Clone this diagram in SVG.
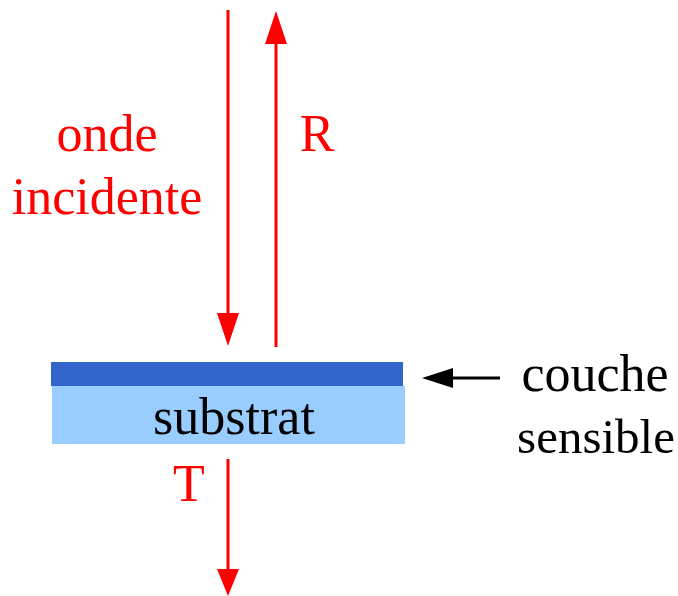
<svg xmlns="http://www.w3.org/2000/svg" width="678" height="596" viewBox="0 0 678 596">
<style>
.red{stroke:#ff0000;stroke-width:3;fill:none}
.lbl{font-family:"Liberation Serif","Times New Roman",serif;font-size:52px;text-anchor:middle}
.r{fill:#ff0000}
.k{fill:#000000}
</style>
<rect width="678" height="596" fill="#ffffff"/>
<g id="connectors">
<line class="red" x1="228" y1="10" x2="228" y2="316"/>
<polygon class="r" points="217,313 239,313 228,346"/>
<line class="red" x1="276" y1="40" x2="276" y2="347"/>
<polygon class="r" points="265,44 287,44 276,11"/>
<line class="red" x1="228" y1="459" x2="228" y2="572"/>
<polygon class="r" points="217,569 239,569 228,596"/>
<line x1="450" y1="378" x2="500" y2="378" stroke="#000" stroke-width="3"/>
<polygon class="k" points="422,378 453,368 453,388"/>
</g>
<g id="incident">
<text class="lbl r" x="107" y="151">onde</text>
<text class="lbl r" x="107" y="214">incidente</text>
</g>
<g id="reflected"><text class="lbl r" x="317" y="151">R</text></g>
<g id="transmitted"><text class="lbl r" x="189" y="501">T</text></g>
<g id="layer"><rect x="51" y="362" width="352" height="24" fill="#3366cc"/></g>
<g id="substrate">
<rect x="52" y="386" width="353" height="58" fill="#99ccff"/>
<text class="lbl k" x="234" y="434">substrat</text>
</g>
<g id="couche">
<text class="lbl k" x="595" y="391">couche</text>
<text class="lbl k" x="596" y="453" style="font-size:49px">sensible</text>
</g>
</svg>
